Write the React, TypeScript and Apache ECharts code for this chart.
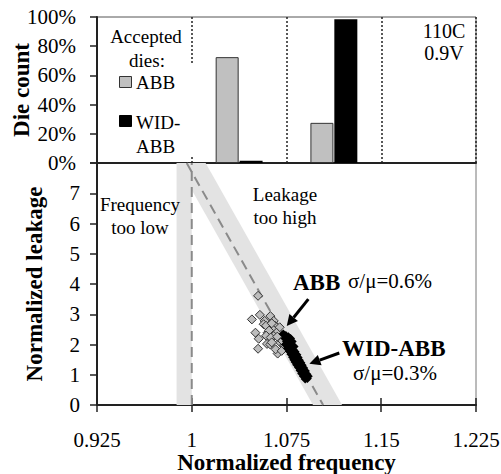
import React, { useEffect, useRef } from "react";
import * as echarts from "echarts";

const FONT = "Liberation Serif";

// Frequency axis (shared by both panels)
const freqMin = 0.925;
const freqMax = 1.225;
const freqStep = 0.075;

// Die-count histogram: frequency bins and percentages of accepted dies
const freqBins = ["0.925-1", "1-1.075", "1.075-1.15", "1.15-1.225"];
const abbShare: (number | string)[] = ["-", 72.5, 27.5, "-"];
const widAbbShare: (number | string)[] = ["-", 1.5, 98.5, "-"];

// Leakage axis
const leakMax = 8;
const leakStep = 1;

// Acceptance bands: frequency floor band and leakage ceiling band
const freqBand = [[0.988, 0], [1.0, 0], [1.0, 8], [0.988, 8]];
const leakBand = [[0.988, 8], [1.011, 8], [1.119, 0], [1.096, 0]];
const freqLimit = [[1.0, 0], [1.0, 8]];
const leakLimit = [[0.996, 8], [1.104, 0]];

// Annotation arrows (start, tip)
const abbArrow = [[1.0923, 3.5], [1.0752, 2.61]];
const widArrow = [[1.1168, 1.72], [1.0931, 1.36]];

// Per-die (normalized frequency, normalized leakage)
const abbDies = [
  [1.0525, 3.61], [1.0476, 2.83], [1.0539, 2.98], [1.0577, 2.78], [1.0622, 2.94],
  [1.0569, 2.67], [1.0649, 2.78], [1.0662, 2.61], [1.0696, 2.57], [1.0636, 2.52],
  [1.0504, 2.39], [1.0601, 2.39], [1.067, 2.39], [1.0649, 2.28], [1.0715, 2.28],
  [1.053, 2.19], [1.0596, 2.02], [1.0622, 2.0], [1.0702, 2.06], [1.0728, 1.97],
  [1.0525, 1.86], [1.068, 1.7], [1.0588, 2.62], [1.0633, 2.7], [1.0612, 2.46],
  [1.0589, 2.29], [1.0625, 2.23], [1.0677, 2.26], [1.0717, 2.12], [1.0633, 2.07],
  [1.0664, 1.84], [1.0712, 1.79], [1.0739, 1.96],
];

const widAbbDies = [
  [1.0725, 2.35], [1.0745, 2.3], [1.0765, 2.26], [1.0738, 2.2], [1.076, 2.16],
  [1.0782, 2.2], [1.075, 2.1], [1.0775, 2.05], [1.0795, 2.1], [1.0742, 2.0],
  [1.0766, 1.95], [1.079, 1.98], [1.081, 1.93], [1.0758, 1.88], [1.0783, 1.85],
  [1.0805, 1.82], [1.0772, 1.78], [1.0796, 1.74], [1.0818, 1.76], [1.0785, 1.68],
  [1.081, 1.65], [1.0832, 1.66], [1.0798, 1.58], [1.082, 1.55], [1.0842, 1.57],
  [1.0808, 1.5], [1.083, 1.46], [1.0852, 1.48], [1.0818, 1.42], [1.0842, 1.38],
  [1.0864, 1.4], [1.083, 1.33], [1.0853, 1.3], [1.0874, 1.31], [1.0845, 1.24],
  [1.0866, 1.2], [1.0886, 1.22], [1.0858, 1.14], [1.088, 1.1], [1.09, 1.12],
  [1.087, 1.04], [1.0892, 1.0], [1.0912, 1.02], [1.0884, 0.95], [1.0905, 0.92],
  [1.0922, 0.95], [1.0915, 0.88], [1.0898, 0.86],
];

const fmtFreq = (v: number) => String(parseFloat(v.toFixed(3)));

export default function App() {
  const ref = useRef<HTMLDivElement>(null);

  useEffect(() => {
    if (!ref.current) return;
    const chart = echarts.init(ref.current, null, { renderer: "svg" });

    const txt = (
      text: string,
      x: number,
      y: number,
      size: number,
      align: string = "center",
      bold = false
    ) => ({
      type: "text",
      x,
      y,
      z: 100,
      style: {
        text,
        fill: "#000",
        fontFamily: FONT,
        fontSize: size,
        fontWeight: bold ? "bold" : "normal",
        align,
        textAlign: align,
        verticalAlign: "middle",
        textVerticalAlign: "middle",
      },
    });

    const axisLabel = { color: "#000", fontFamily: FONT, fontSize: 21 };
    const nameStyle = { color: "#000", fontFamily: FONT, fontSize: 23, fontWeight: "bold" };

    chart.setOption({
      animation: false,
      textStyle: { fontFamily: FONT },
      grid: [
        {
          left: 97, right: 25, top: 17, height: 146,
          outerBoundsMode: "none", containLabel: false,
          show: true, borderColor: "#555", borderWidth: 1,
        },
        {
          left: 97, right: 25, top: 163, bottom: 69,
          outerBoundsMode: "none", containLabel: false,
          show: true, borderColor: "#777", borderWidth: 1,
        },
      ],
      xAxis: [
        {
          type: "category",
          gridIndex: 0,
          data: freqBins,
          boundaryGap: true,
          axisLine: { show: true, onZero: false, lineStyle: { color: "#222", width: 2 } },
          axisTick: { show: false },
          axisLabel: { show: false },
          splitLine: { show: true, lineStyle: { color: "#222", type: [2, 2], width: 1.5 } },
        },
        {
          type: "value",
          gridIndex: 1,
          min: freqMin,
          max: freqMax,
          interval: freqStep,
          axisLine: { show: true, onZero: false, lineStyle: { color: "#222", width: 2 } },
          axisTick: { show: true, length: 7, lineStyle: { color: "#222", width: 1.5 } },
          axisLabel: { ...axisLabel, margin: 24, formatter: fmtFreq },
          splitLine: { show: false },
          name: "Normalized frequency",
          nameLocation: "middle",
          nameGap: 46,
          nameMoveOverlap: false,
          nameTextStyle: nameStyle,
        },
        {
          type: "value",
          gridIndex: 1,
          position: "bottom",
          min: freqMin,
          max: freqMax,
          interval: freqStep,
          axisLine: { show: false },
          axisTick: { show: true, inside: true, length: 7, lineStyle: { color: "#222", width: 1.5 } },
          axisLabel: { show: false },
          splitLine: { show: false },
        },
      ],
      yAxis: [
        {
          type: "value",
          gridIndex: 0,
          min: 0,
          max: 100,
          interval: 20,
          axisLine: { show: true, lineStyle: { color: "#222", width: 2 } },
          axisTick: { show: true, length: 7, lineStyle: { color: "#222", width: 1.5 } },
          axisLabel: { ...axisLabel, margin: 21, formatter: (v: number) => `${v}%` },
          splitLine: { show: false },
          name: "Die count",
          nameLocation: "middle",
          nameGap: 64,
          nameMoveOverlap: false,
          nameTextStyle: nameStyle,
        },
        {
          type: "value",
          gridIndex: 1,
          min: 0,
          max: leakMax,
          interval: leakStep,
          axisLine: { show: true, lineStyle: { color: "#222", width: 2 } },
          axisTick: { show: true, length: 7, lineStyle: { color: "#222", width: 1.5 } },
          axisLabel: {
            ...axisLabel,
            margin: 17,
            formatter: (v: number) => (v >= leakMax ? "" : String(v)),
          },
          splitLine: { show: false },
          name: "Normalized leakage",
          nameLocation: "middle",
          nameGap: 51,
          nameMoveOverlap: false,
          nameTextStyle: nameStyle,
        },
      ],
      series: [
        {
          name: "ABB",
          type: "bar",
          xAxisIndex: 0,
          yAxisIndex: 0,
          barWidth: 23,
          barGap: "4%",
          data: abbShare,
          itemStyle: { color: "#c0c0c0", borderColor: "#333", borderWidth: 1 },
        },
        {
          name: "WID-ABB",
          type: "bar",
          xAxisIndex: 0,
          yAxisIndex: 0,
          barWidth: 23,
          barGap: "4%",
          data: widAbbShare,
          itemStyle: { color: "#000" },
        },
        {
          type: "custom",
          xAxisIndex: 1,
          yAxisIndex: 1,
          z: 1,
          silent: true,
          data: [[0], [1]],
          renderItem: (params: any, api: any) => {
            const poly = params.dataIndex === 0 ? freqBand : leakBand;
            return {
              type: "polygon",
              shape: { points: poly.map((p) => api.coord(p)) },
              style: { fill: "#e3e3e3" },
            };
          },
        },
        {
          type: "custom",
          xAxisIndex: 1,
          yAxisIndex: 1,
          z: 2,
          silent: true,
          data: [[0], [1]],
          renderItem: (params: any, api: any) => {
            const seg = params.dataIndex === 0 ? freqLimit : leakLimit;
            const a = api.coord(seg[0]);
            const b = api.coord(seg[1]);
            return {
              type: "line",
              shape: { x1: a[0], y1: a[1], x2: b[0], y2: b[1] },
              style: { stroke: "#8a8a8a", lineWidth: 2, lineDash: [10, 6] },
            };
          },
        },
        {
          name: "ABB dies",
          type: "scatter",
          xAxisIndex: 1,
          yAxisIndex: 1,
          z: 3,
          symbol: "diamond",
          symbolSize: 9,
          data: abbDies,
          itemStyle: { color: "#bdbdbd", borderColor: "#333", borderWidth: 1, opacity: 1 },
        },
        {
          name: "WID-ABB dies",
          type: "scatter",
          xAxisIndex: 1,
          yAxisIndex: 1,
          z: 4,
          symbol: "diamond",
          symbolSize: 9,
          data: widAbbDies,
          itemStyle: { color: "#000", opacity: 1 },
        },
        {
          type: "custom",
          xAxisIndex: 1,
          yAxisIndex: 1,
          z: 5,
          silent: true,
          data: [[0], [1]],
          renderItem: (params: any, api: any) => {
            const seg = params.dataIndex === 0 ? abbArrow : widArrow;
            const a = api.coord(seg[0]);
            const b = api.coord(seg[1]);
            const dx = b[0] - a[0];
            const dy = b[1] - a[1];
            const len = Math.hypot(dx, dy);
            const ux = dx / len;
            const uy = dy / len;
            const head = 11;
            const half = 5.5;
            const bx = b[0] - ux * head;
            const by = b[1] - uy * head;
            return {
              type: "group",
              children: [
                {
                  type: "line",
                  shape: { x1: a[0], y1: a[1], x2: bx, y2: by },
                  style: { stroke: "#000", lineWidth: 3 },
                },
                {
                  type: "polygon",
                  shape: {
                    points: [
                      [b[0], b[1]],
                      [bx - uy * half, by + ux * half],
                      [bx + uy * half, by - ux * half],
                    ],
                  },
                  style: { fill: "#000" },
                },
              ],
            };
          },
        },
      ],
      graphic: [
        { type: "rect", z: 90, shape: { x: 108, y: 65, width: 88, height: 90 }, style: { fill: "#fff" } },
        txt("Accepted", 146, 36, 19),
        txt("dies:", 147, 60, 19),
        {
          type: "rect",
          z: 100,
          shape: { x: 119.5, y: 76.5, width: 12, height: 11 },
          style: { fill: "#c0c0c0", stroke: "#333", lineWidth: 1 },
        },
        txt("ABB", 136, 82, 19, "left"),
        {
          type: "rect",
          z: 100,
          shape: { x: 119.5, y: 115.5, width: 12, height: 11 },
          style: { fill: "#000", stroke: "#000", lineWidth: 1 },
        },
        txt("WID-", 136, 122, 19, "left"),
        txt("ABB", 136, 146, 19, "left"),
        txt("110C", 444, 31, 20),
        txt("0.9V", 444, 53, 20),
        txt("Frequency", 140, 204, 19),
        txt("too low", 140, 227, 19),
        txt("Leakage", 285, 194, 19),
        txt("too high", 285, 217, 19),
        txt("ABB", 293, 282, 23, "left", true),
        txt("σ/μ=0.6%", 348, 281, 21, "left"),
        txt("WID-ABB", 342, 348, 23, "left", true),
        txt("σ/μ=0.3%", 353, 373, 21, "left"),
      ],
    });

    return () => chart.dispose();
  }, []);

  return (
    <div
      ref={ref}
      style={{ position: "fixed", left: 0, top: 0, width: 501, height: 474, background: "#fff" }}
    />
  );
}
